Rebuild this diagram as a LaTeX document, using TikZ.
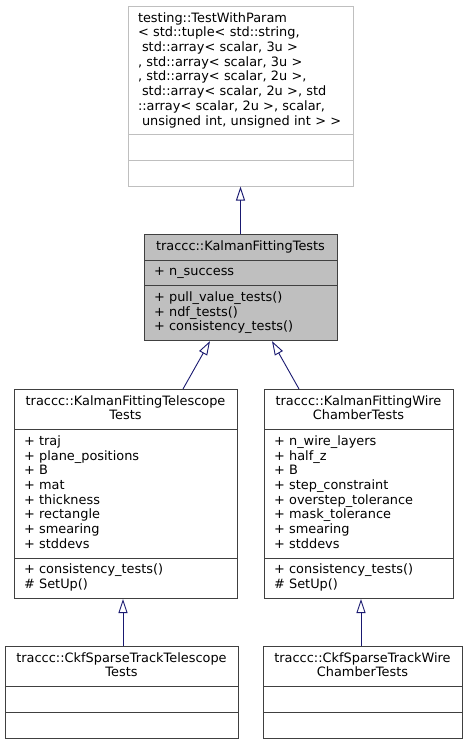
\documentclass[tikz,border=0pt]{standalone}
\usepackage{fontspec}
\usetikzlibrary{shapes.multipart,arrows.meta}
\newfontfamily\umlfont{DejaVu Sans}
\definecolor{umlline}{HTML}{404040}
\definecolor{umlgrey}{HTML}{BFBFBF}
\definecolor{umlarrow}{HTML}{191970}
\newcommand{\lsp}{\hspace*{4pt}}
\newcommand{\ctitle}[1]{\makebox[\linewidth]{\strut#1}}
\tikzset{
  umlclass/.style={rectangle split, rectangle split parts=3, draw=umlline, fill=white,
    line width=0.9pt, inner xsep=10pt, inner ysep=5pt, align=left, anchor=north,
    font=\umlfont\fontsize{12.9}{14.7}\selectfont},
  umlextern/.style={umlclass, draw=umlgrey},
  umlcurrent/.style={umlclass, fill=umlgrey},
  inherit/.style={draw=umlarrow, line width=0.9pt, -{Triangle[open,length=14pt,width=9pt]}}
}
\begin{document}
\begin{tikzpicture}[x=1pt,y=-1pt]
\useasboundingbox (0,0) rectangle (467,743);

\node[umlextern, text width=205pt] (param) at (240.5,6) {\strut testing::TestWithParam\\
  < std::tuple< std::string,\\
  \lsp std::array< scalar, 3u >\\
  , std::array< scalar, 3u >\\
  , std::array< scalar, 2u >,\\
  \lsp std::array< scalar, 2u >, std\\
  ::array< scalar, 2u >, scalar,\\
  \lsp unsigned int, unsigned int > >\strut
  \nodepart{two}\strut
  \nodepart{three}\strut};

\node[umlcurrent, text width=173pt] (kalman) at (240.5,234) {\ctitle{traccc::KalmanFittingTests}
  \nodepart{two}\strut + n\_success
  \nodepart{three}\strut + pull\_value\_tests()\\
  + ndf\_tests()\\
  + consistency\_tests()\strut};

\node[umlclass, text width=203pt] (tele) at (125.5,389) {\ctitle{traccc::KalmanFittingTelescope}\\\ctitle{Tests}
  \nodepart{two}\strut + traj\\
  + plane\_positions\\
  + B\\
  + mat\\
  + thickness\\
  + rectangle\\
  + smearing\\
  + stddevs\strut
  \nodepart{three}\strut + consistency\_tests()\\
  \# SetUp()\strut};

\node[umlclass, text width=169pt] (wire) at (358.5,389) {\ctitle{traccc::KalmanFittingWire}\\\ctitle{ChamberTests}
  \nodepart{two}\strut + n\_wire\_layers\\
  + half\_z\\
  + B\\
  + step\_constraint\\
  + overstep\_tolerance\\
  + mask\_tolerance\\
  + smearing\\
  + stddevs\strut
  \nodepart{three}\strut + consistency\_tests()\\
  \# SetUp()\strut};

\node[umlclass, text width=213pt] (ckftele) at (121.5,646) {\ctitle{traccc::CkfSparseTrackTelescope}\\\ctitle{Tests}
  \nodepart{two}\strut
  \nodepart{three}\strut};

\node[umlclass, text width=179pt] (ckfwire) at (362.5,646) {\ctitle{traccc::CkfSparseTrackWire}\\\ctitle{ChamberTests}
  \nodepart{two}\strut
  \nodepart{three}\strut};

\draw[inherit] (kalman.north) -- (param.south);
\draw[inherit] ([xshift=57.5pt]tele.north) -- ([xshift=-30.5pt]kalman.south);
\draw[inherit] ([xshift=-59.5pt]wire.north) -- ([xshift=31.5pt]kalman.south);
\draw[inherit] ([xshift=1.5pt]ckftele.north) -- ([xshift=-2.5pt]tele.south);
\draw[inherit] ([xshift=-1.5pt]ckfwire.north) -- ([xshift=2.5pt]wire.south);
\end{tikzpicture}
\end{document}
